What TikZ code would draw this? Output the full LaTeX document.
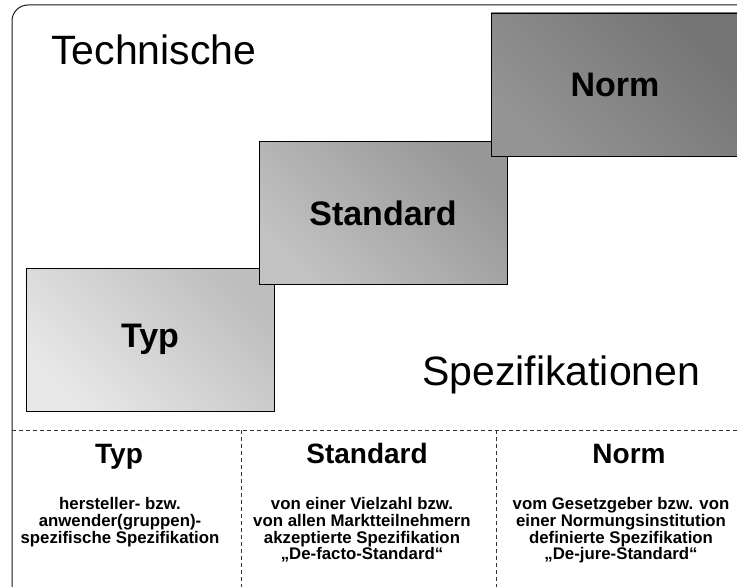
\documentclass[tikz,border=0pt]{standalone}
\usepackage{fontspec}
\setmainfont{Liberation Sans}
\usepackage{xcolor}
\usetikzlibrary{positioning}

\definecolor{typhell}{HTML}{E8E8E8}
\definecolor{typdunkel}{HTML}{BEBEBE}
\definecolor{stdhell}{HTML}{C2C2C2}
\definecolor{stddunkel}{HTML}{979797}
\definecolor{normhell}{HTML}{949494}
\definecolor{normdunkel}{HTML}{747474}

\begin{document}
\begin{tikzpicture}[x=1bp, y=-1bp,
    stufe/.style 2 args={draw=black, line width=0.9bp, minimum width=248bp, minimum height=143bp,
        inner sep=0pt, font=\fontsize{34bp}{40bp}\selectfont\bfseries,
        bottom color=#1, top color=#2, shading angle=-45},
    titel/.style={font=\fontsize{41bp}{46bp}\selectfont, inner sep=0pt},
    spalte/.style={font=\fontsize{28bp}{32bp}\selectfont\bfseries, inner sep=0pt, anchor=base},
    beschr/.style={font=\fontsize{16.8bp}{16.7bp}\selectfont\bfseries, align=center, inner sep=0pt, anchor=north},
    trenner/.style={draw=black!80, line width=0.8bp, dash pattern=on 4bp off 3bp}]
    \path[use as bounding box, clip] (0,0) rectangle (737,587);

    % Rahmen
    \draw[black!90, line width=1bp, rounded corners=16bp] (12,5) rectangle (770,610);

    % Trennlinien unten
    \coordinate (links) at (12,430);
    \coordinate (rechts) at (745,430);
    \coordinate (t1) at (241.7,430);
    \coordinate (t2) at (496,430);
    \draw[trenner] (links) -- (rechts);
    \draw[trenner] (t1) -- ++(0,170);
    \draw[trenner] (t2) -- ++(0,170);

    % Treppe
    \node[stufe={typhell}{typdunkel}] (typbox) at (150,339.5) {Typ};
    \node[stufe={stdhell}{stddunkel}] (stdbox) at (383,213) {Standard};
    \node[stufe={normhell}{normdunkel}] (normbox) at (615,84.5) {Norm};

    \node[titel, anchor=base west] (technische) at (51,65) {Technische};
    \node[titel, anchor=base west] (spezifikationen) at (422,385) {Spezifikationen};

    % Erklaerungen
    \node[spalte] (typhead) at (119,463) {Typ};
    \node[spalte] (stdhead) at (367,463) {Standard};
    \node[spalte] (normhead) at (629,463) {Norm};

    \node[beschr] (typtext) at (120,497.5) {hersteller- bzw.\\anwender(gruppen)-\\spezifische Spezifikation};
    \node[beschr] (stdtext) at (362,497.5) {von einer Vielzahl bzw.\\von allen Marktteilnehmern\\akzeptierte Spezifikation\\„De-facto-Standard“};
    \node[beschr] (normtext) at (621,497.5) {vom Gesetzgeber bzw. von\\einer Normungsinstitution\\definierte Spezifikation\\„De-jure-Standard“};
\end{tikzpicture}
\end{document}
